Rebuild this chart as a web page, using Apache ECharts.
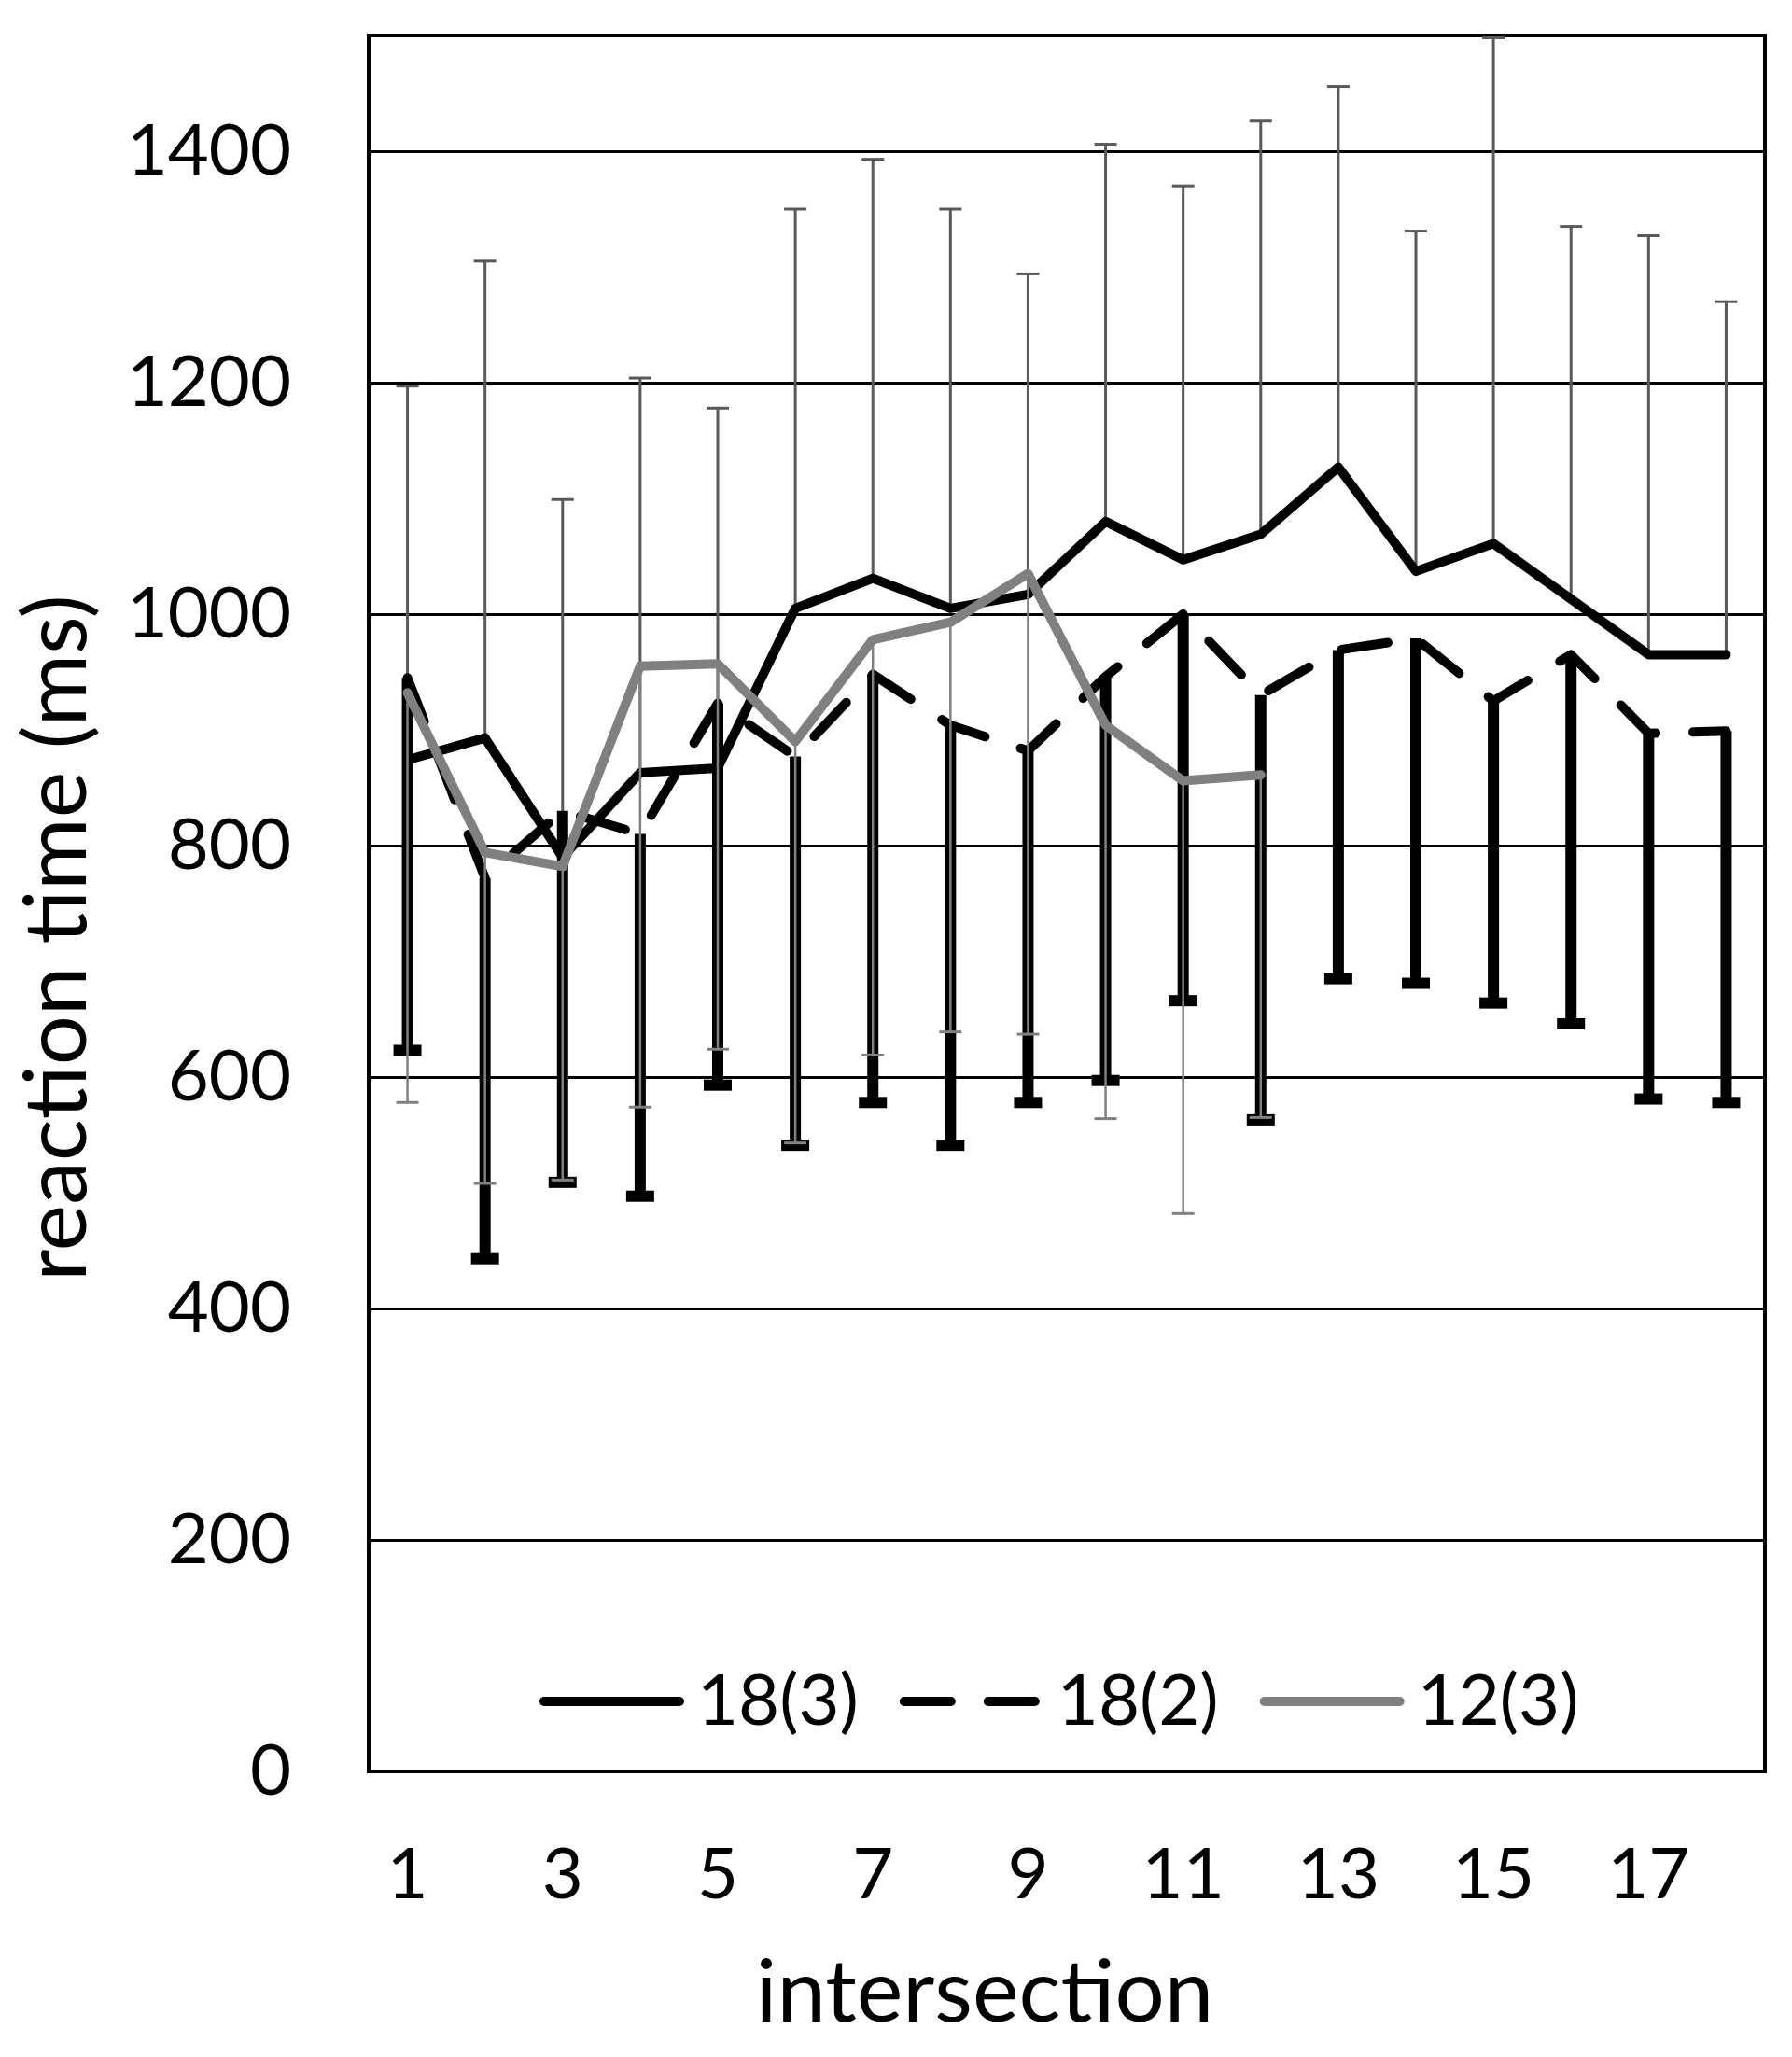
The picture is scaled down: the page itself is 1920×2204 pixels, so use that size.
<!DOCTYPE html>
<html>
<head>
<meta charset="utf-8">
<script src="https://cdn.jsdelivr.net/npm/echarts@6/dist/echarts.min.js"></script>
<style>
  html, body { margin: 0; padding: 0; background: #ffffff; }
  #chart { width: 1920px; height: 2204px; }
</style>
</head>
<body>
<div id="chart"></div>
<script>
// ---- data ----
const categories = ['1','2','3','4','5','6','7','8','9','10','11','12','13','14','15','16','17','18'];

// 18(3): mean reaction time and upper end of its (+) error bar
const mean18_3 = [874, 893, 790, 863, 867, 1005, 1031, 1005, 1017, 1080, 1047, 1069, 1127, 1037, 1061, 1013, 965, 965];
const upper18_3 = [1197, 1305, 1099, 1204, 1178, 1350, 1393, 1350, 1294, 1406, 1370, 1426, 1456, 1331, 1498, 1335, 1327, 1270];

// 18(2): mean reaction time and lower end of its (-) error bar
const mean18_2 = [945, 772, 830, 810, 923, 877, 948, 904, 882, 946, 1000, 930, 969, 979, 925, 965, 897, 899];
const lower18_2 = [623, 443, 509, 497, 593, 541, 578, 541, 578, 597, 666, 563, 685, 681, 664, 646, 581, 578];

// 12(3): mean reaction time and lower end of its (-) error bar (12 intersections)
const mean12_3 = [932, 794, 782, 955, 957, 890, 978, 993, 1035, 904, 856, 861];
const lower12_3 = [578, 508, 511, 574, 624, 543, 619, 639, 637, 564, 482, 565];

const seriesNames = ['18(3)', '18(2)', '12(3)'];
const yTicks = { min: 0, max: 1500, interval: 200 };

// ---- helpers ----
function errData(means, ends) {
  return means.map(function (m, i) { return [i, m, ends[i]]; });
}
function errRenderer(color, width, capLen, capWidth) {
  return function (params, api) {
    const x = api.value(0);
    const p0 = api.coord([x, api.value(1)]);
    const p1 = api.coord([x, api.value(2)]);
    const h = capLen / 2;
    return {
      type: 'group',
      children: [
        { type: 'line', shape: { x1: p0[0], y1: p0[1], x2: p1[0], y2: p1[1] },
          style: { stroke: color, lineWidth: width, lineCap: 'butt' } },
        { type: 'line', shape: { x1: p1[0] - h, y1: p1[1], x2: p1[0] + h, y2: p1[1] },
          style: { stroke: color, lineWidth: capWidth, lineCap: 'butt' } }
      ]
    };
  };
}

const FONT = 'Lato';
const LINE_W = 10;
const chart = echarts.init(document.getElementById('chart'), null, { renderer: 'canvas' });

chart.setOption({
  animation: false,
  backgroundColor: '#ffffff',
  textStyle: { fontFamily: FONT, color: '#000' },
  grid: {
    left: 395, top: 38, right: 29, bottom: 306,
    show: true, borderColor: '#000', borderWidth: 4, backgroundColor: 'transparent',
    containLabel: false, outerBoundsMode: 'none'
  },
  legend: {
    data: seriesNames,
    left: 578, top: 1785, padding: 0,
    itemWidth: 145, itemHeight: 20, itemGap: 44,
    itemStyle: { opacity: 0, borderWidth: 0 },
    lineStyle: { width: 'inherit', type: 'inherit', cap: 'round' },
    textStyle: { fontFamily: FONT, fontSize: 76, lineHeight: 76, color: '#000', padding: [0, 0, 0, 14] },
    selectedMode: false
  },
  xAxis: {
    type: 'category',
    data: categories,
    boundaryGap: true,
    axisLine: { show: false },
    axisTick: { show: false },
    splitLine: { show: false },
    axisLabel: { interval: 1, fontFamily: FONT, fontSize: 76, lineHeight: 76, color: '#000', margin: 73 },
    name: 'intersection',
    nameLocation: 'middle',
    nameGap: 191,
    nameTextStyle: { fontFamily: FONT, fontSize: 94, lineHeight: 94, color: '#000', padding: [0, 176, 0, 0] }
  },
  yAxis: {
    type: 'value',
    min: yTicks.min, max: yTicks.max, interval: yTicks.interval,
    axisLine: { show: false },
    axisTick: { show: false },
    splitLine: { show: true, lineStyle: { color: '#000', width: 3 } },
    axisLabel: {
      fontFamily: FONT, fontSize: 76, color: '#000', margin: 83, showMaxLabel: false,
      formatter: function (v) { return String(v); }
    },
    name: 'reaction time (ms)',
    nameLocation: 'middle',
    nameGap: 286,
    nameTextStyle: { fontFamily: FONT, fontSize: 94, lineHeight: 94, color: '#000', padding: [0, 74, 0, 0] }
  },
  series: [
    {
      name: '18(3) error', type: 'custom', silent: true, z: 1,
      data: errData(mean18_3, upper18_3),
      encode: { x: 0, y: [1, 2] },
      renderItem: errRenderer('#595959', 3, 24, 3)
    },
    {
      name: '18(2) error', type: 'custom', silent: true, z: 2,
      data: errData(mean18_2, lower18_2),
      encode: { x: 0, y: [1, 2] },
      renderItem: errRenderer('#000000', 12, 30, 12)
    },
    {
      name: seriesNames[0], type: 'line', z: 3, silent: true,
      data: mean18_3, symbol: 'none',
      lineStyle: { color: '#000000', width: LINE_W, cap: 'round', join: 'round' },
      itemStyle: { color: '#000000' }
    },
    {
      name: seriesNames[1], type: 'line', z: 3, silent: true,
      data: mean18_2, symbol: 'none',
      lineStyle: { color: '#000000', width: LINE_W, type: [50, 40], cap: 'round', join: 'round' },
      itemStyle: { color: '#000000' }
    },
    {
      name: '12(3) error', type: 'custom', silent: true, z: 4,
      data: errData(mean12_3, lower12_3),
      encode: { x: 0, y: [1, 2] },
      renderItem: errRenderer('#808080', 2.5, 24, 3)
    },
    {
      name: seriesNames[2], type: 'line', z: 5, silent: true,
      data: mean12_3, symbol: 'none',
      lineStyle: { color: '#808080', width: LINE_W, cap: 'round', join: 'round' },
      itemStyle: { color: '#808080' }
    }
  ]
});
</script>
</body>
</html>
